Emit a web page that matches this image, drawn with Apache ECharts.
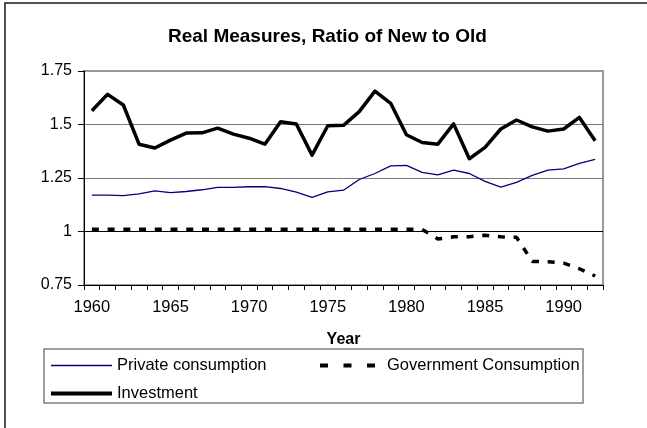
<!DOCTYPE html>
<html>
<head>
<meta charset="utf-8">
<title>Real Measures, Ratio of New to Old</title>
<script src="https://cdn.jsdelivr.net/npm/echarts@6/dist/echarts.min.js"></script>
<style>
  html, body { margin: 0; padding: 0; background: #fff; }
  #chart { width: 647px; height: 428px; }
</style>
</head>
<body>
<div id="chart"></div>
<script>
// Years on the category axis
const years = [];
for (let y = 1960; y <= 1992; y++) years.push(String(y));

// Ratio of new to old real measures, by series
const privateConsumption = [
  1.170, 1.170, 1.168, 1.176, 1.190, 1.182, 1.187, 1.195, 1.206, 1.206,
  1.209, 1.210, 1.201, 1.184, 1.160, 1.185, 1.193, 1.243, 1.271, 1.307,
  1.309, 1.276, 1.265, 1.287, 1.271, 1.234, 1.207, 1.230, 1.262, 1.287,
  1.293, 1.318, 1.337
];
const governmentConsumption = [
  1.010, 1.010, 1.010, 1.010, 1.010, 1.010, 1.010, 1.010, 1.010, 1.010,
  1.010, 1.010, 1.010, 1.010, 1.010, 1.010, 1.010, 1.010, 1.010, 1.010,
  1.010, 1.010, 0.965, 0.975, 0.976, 0.982, 0.975, 0.973, 0.860, 0.859,
  0.852, 0.826, 0.792
];
const investment = [
  1.564, 1.641, 1.591, 1.408, 1.390, 1.427, 1.460, 1.461, 1.483, 1.455,
  1.436, 1.408, 1.513, 1.502, 1.357, 1.494, 1.496, 1.560, 1.656, 1.599,
  1.452, 1.416, 1.408, 1.503, 1.340, 1.393, 1.479, 1.521, 1.489, 1.469,
  1.479, 1.533, 1.424
];

// Value axis ticks
const yTicks = [0.75, 1, 1.25, 1.5, 1.75];

const FONT = '"Liberation Sans", Arial, sans-serif';

const chart = echarts.init(document.getElementById('chart'), null, { renderer: 'canvas' });

// legend entries show only the line sample, no marker
const legendMarker = { opacity: 0, color: 'rgba(0,0,0,0)', borderWidth: 0 };

chart.setOption({
  backgroundColor: '#ffffff',
  animation: false,
  title: {
    text: 'Real Measures, Ratio of New to Old',
    left: 168,
    top: 27,
    padding: 0,
    textStyle: { fontFamily: FONT, fontSize: 19, fontWeight: 'bold', color: '#000' }
  },
  grid: {
    left: 84, right: 44, top: 71, bottom: 143,
    show: true,
    backgroundColor: '#ffffff',
    borderColor: '#999999',
    borderWidth: 2
  },
  xAxis: {
    type: 'category',
    data: years,
    boundaryGap: true,
    name: 'Year',
    nameLocation: 'middle',
    nameGap: 47,
    nameTextStyle: { fontFamily: FONT, fontSize: 16, fontWeight: 'bold', color: '#000' },
    axisLine: { show: true, lineStyle: { color: '#000', width: 1 } },
    axisTick: { show: true, interval: 0, length: 5, lineStyle: { color: '#000', width: 1 } },
    axisLabel: {
      interval: 4,
      margin: 14,
      fontFamily: FONT, fontSize: 16.5, color: '#000'
    },
    splitLine: { show: false }
  },
  yAxis: {
    type: 'value',
    min: yTicks[0],
    max: yTicks[yTicks.length - 1],
    interval: yTicks[1] - yTicks[0],
    axisLine: { show: true, lineStyle: { color: '#000', width: 1 } },
    axisTick: { show: true, length: 6, lineStyle: { color: '#000', width: 1 } },
    axisLabel: { margin: 12, fontFamily: FONT, fontSize: 16, color: '#000' },
    splitLine: {
      show: true,
      lineStyle: { color: ['#000', '#000', '#7a7a7a', '#7a7a7a', '#999'], width: 1 }
    }
  },
  legend: [
    {
      orient: 'vertical',
      left: 49,
      top: 357,
      itemWidth: 61,
      itemHeight: 14,
      itemGap: 11,
      padding: 0,
      itemStyle: legendMarker,
      textStyle: { fontFamily: FONT, fontSize: 16.5, color: '#000' },
      data: [
        { name: 'Private consumption', lineStyle: { color: '#000080', width: 1.5 } },
        { name: 'Investment', lineStyle: { color: '#000', width: 4 } }
      ]
    },
    {
      orient: 'horizontal',
      left: 318,
      top: 357,
      itemWidth: 62,
      itemHeight: 14,
      padding: 0,
      itemStyle: legendMarker,
      textStyle: { fontFamily: FONT, fontSize: 16.5, color: '#000' },
      data: [{
        name: 'Government Consumption',
        lineStyle: { color: '#000', type: [8, 15.5], width: 4 }
      }]
    }
  ],
  graphic: [
    // outer chart frame
    {
      type: 'rect',
      silent: true,
      shape: { x: 5, y: 3, width: 700, height: 500 },
      style: { fill: 'none', stroke: '#1a1a1a', lineWidth: 1.5 }
    },
    // legend box
    {
      type: 'rect',
      silent: true,
      z: -1,
      shape: { x: 44, y: 349, width: 539, height: 54 },
      style: { fill: '#fff', stroke: '#808080', lineWidth: 1.5 }
    }
  ],
  series: [
    {
      name: 'Private consumption',
      type: 'line',
      data: privateConsumption,
      symbol: 'none',
      color: '#000080',
      lineStyle: { color: '#000080', width: 1.3 },
      z: 3
    },
    {
      name: 'Government Consumption',
      type: 'line',
      data: governmentConsumption,
      symbol: 'none',
      color: '#000',
      lineStyle: { color: '#000', width: 3.5, type: [7, 8.73], cap: 'butt' },
      z: 3
    },
    {
      name: 'Investment',
      type: 'line',
      data: investment,
      symbol: 'none',
      color: '#000',
      lineStyle: { color: '#000', width: 3.5, join: 'round' },
      z: 4
    }
  ]
});
</script>
</body>
</html>
